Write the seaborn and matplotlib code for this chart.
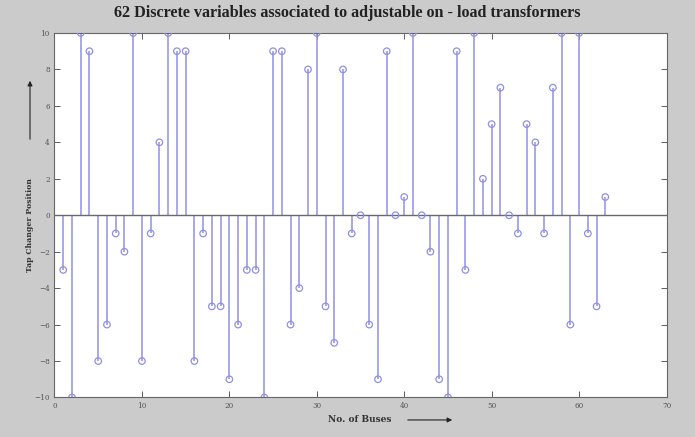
import matplotlib
matplotlib.use("Agg")
import matplotlib.pyplot as plt
import seaborn as sns
import pandas as pd
import numpy as np

buses = list(range(1, 64))
tap_positions = [-3, -10, 10, 9, -8, -6, -1, -2, 10, -8,
                 -1, 4, 10, 9, 9, -8, -1, -5, -5, -9,
                 -6, -3, -3, -10, 9, 9, -6, -4, 8, 10,
                 -5, -7, 8, -1, 0, -6, -9, 9, 0, 1,
                 10, 0, -2, -9, -10, 9, -3, 10, 2, 5,
                 7, 0, -1, 5, 4, -1, 7, 10, -6, 10,
                 -1, -5, 1]
xticks = [0, 10, 20, 30, 40, 50, 60, 70]
yticks = [-10, -8, -6, -4, -2, 0, 2, 4, 6, 8, 10]
title = "62 Discrete variables associated to adjustable on - load transformers"

df = pd.DataFrame({"bus": buses, "tap": tap_positions})

sns.set_style("ticks")
plt.rcParams['font.family'] = ['DejaVu Serif', 'DejaVu Sans']

fig = plt.figure(figsize=(6.95, 4.37), dpi=100)
fig.patch.set_facecolor("#cbcbcb")
ax = fig.add_axes([0.0784, 0.0904, 0.8806, 0.8341])
ax.set_facecolor("white")

stem_col = "#8f8fe6"
ax.vlines(df["bus"], 0, df["tap"], color=stem_col, linewidth=1.1, zorder=2)
ax.axhline(0, color="#6a6a6a", linewidth=1.0, zorder=3)
sns.scatterplot(data=df, x="bus", y="tap", ax=ax, marker="o", s=22,
                facecolor="none", edgecolor=stem_col, linewidth=0.9, zorder=4)

ax.set_xlim(0, 70)
ax.set_ylim(-10, 10)
ax.set_xticks(xticks)
ax.set_yticks(yticks)
ax.tick_params(direction="in", length=4, width=0.6, labelsize=5.2,
               top=True, right=True, colors="#444444", labelcolor="#555555")
for s in ax.spines.values():
    s.set_visible(True)
    s.set_color("#666666")
    s.set_linewidth(0.8)

ax.set_xlabel("")
ax.set_ylabel("")

fig.text(0.5, 0.970, title, ha="center", va="center", fontsize=11.6,
         fontweight="bold", color="#222222", family=['Liberation Serif'])

# x label with arrow
fig.text(0.517, 0.039, "No. of Buses", ha="center", va="center", fontsize=6.5,
         fontweight="bold", color="#333333")
fig.add_artist(matplotlib.patches.FancyArrowPatch(
    (405 / 695, 0.039), (455 / 695, 0.039), transform=fig.transFigure,
    arrowstyle="-|>", mutation_scale=7, color="#222222", linewidth=0.8))

# y label with arrow
fig.text(30 / 695, 1 - 225 / 437, "Tap Changer Position", ha="center", va="center",
         rotation=90, fontsize=5.6, fontweight="bold", color="#333333")
fig.add_artist(matplotlib.patches.FancyArrowPatch(
    (30 / 695, 1 - 142 / 437), (30 / 695, 1 - 78 / 437), transform=fig.transFigure,
    arrowstyle="-|>", mutation_scale=7, color="#222222", linewidth=0.8))

fig.savefig("out.png", dpi=100, facecolor=fig.get_facecolor())
